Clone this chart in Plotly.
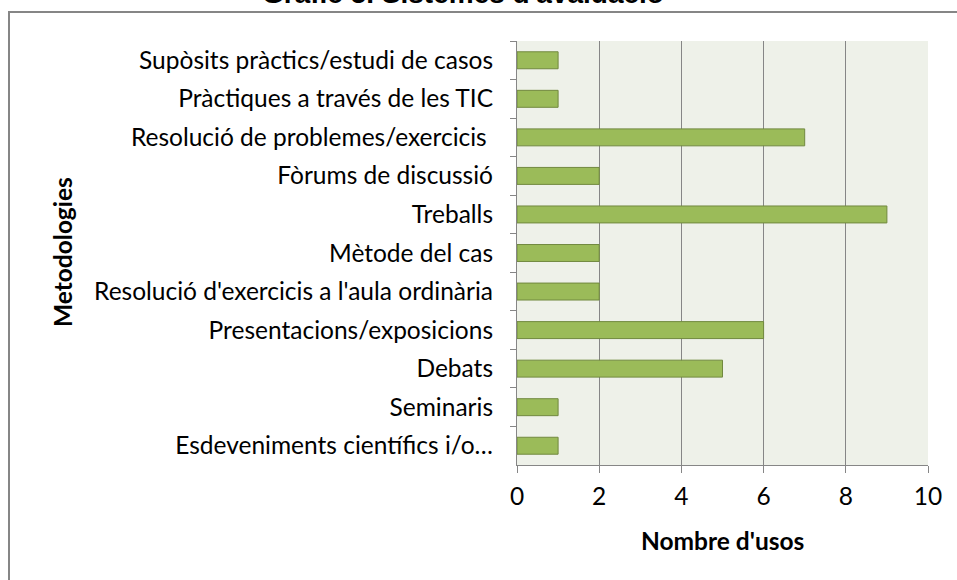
import plotly.graph_objects as go

categories = [
    "Supòsits pràctics/estudi de casos",
    "Pràctiques a través de les TIC",
    "Resolució de problemes/exercicis\u00a0",
    "Fòrums de discussió",
    "Treballs",
    "Mètode del cas",
    "Resolució d'exercicis a l'aula ordinària",
    "Presentacions/exposicions",
    "Debats",
    "Seminaris",
    "Esdeveniments científics i/o…",
]
values = [1, 1, 7, 2, 9, 2, 2, 6, 5, 1, 1]
x_ticks = [0, 2, 4, 6, 8, 10]

title_text = "Gràfic 5. Sistemes d'avaluació"
x_title = "Nombre d'usos"
y_title = "Metodologies"

L, R, T, B = 517, 928, 41, 465
W, H = 957, 580
pw, ph = R - L, B - T

def px(x):
    return (x - L) / pw

def py(y):
    return (B - y) / ph

grid = "#868686"
label_font = dict(family="Lato, sans-serif", size=24.5, color="#000000")
bold_font = dict(family="Lato, sans-serif", size=24.5, color="#000000", weight="bold")

fig = go.Figure(go.Bar(
    x=values,
    y=categories,
    orientation="h",
    width=0.44,
    marker=dict(color="#9BBB59", line=dict(color="#71893F", width=1)),
))

fig.update_layout(
    width=W, height=H,
    margin=dict(l=L, r=W - R, t=T, b=H - B, autoexpand=False),
    paper_bgcolor="white",
    plot_bgcolor="#EEF1E9",
    showlegend=False,
    xaxis=dict(
        range=[0, 10], tickvals=x_ticks, ticktext=[str(v) for v in x_ticks],
        showgrid=True, gridcolor=grid, gridwidth=1.2,
        showline=True, linecolor=grid, linewidth=1.2,
        ticks="outside", ticklen=7, tickcolor=grid, ticklabelstandoff=2,
        tickfont=label_font, zeroline=False, fixedrange=True,
    ),
    yaxis=dict(
        type="category", autorange="reversed",
        showgrid=False, showline=True, linecolor=grid, linewidth=1.2,
        ticks="outside", ticklen=6, tickcolor=grid, tickson="boundaries",
        tickfont=label_font, ticklabelstandoff=18, fixedrange=True,
    ),
    shapes=[dict(
        type="rect", xref="paper", yref="paper",
        x0=px(9), x1=px(W + 20), y0=py(H + 20), y1=py(12),
        line=dict(color="#868686", width=2), fillcolor="rgba(0,0,0,0)", layer="below",
    )],
    annotations=[
        dict(text=title_text, xref="paper", yref="paper", x=px(463), y=py(-6),
             xanchor="center", yanchor="middle", showarrow=False,
             font=dict(family="Liberation Sans, Arial, sans-serif", size=28, color="#000000", weight="bold")),
        dict(text=y_title, xref="paper", yref="paper", x=px(62), y=py(252),
             xanchor="center", yanchor="middle", showarrow=False, textangle=-90,
             font=bold_font),
        dict(text=x_title, xref="paper", yref="paper", x=px(722), y=py(540),
             xanchor="center", yanchor="middle", showarrow=False,
             font=bold_font),
    ],
)

fig.write_html(
    "out.html",
    config={"displayModeBar": False},
    post_script="document.body.style.margin='0';document.body.style.overflow='hidden';",
)
